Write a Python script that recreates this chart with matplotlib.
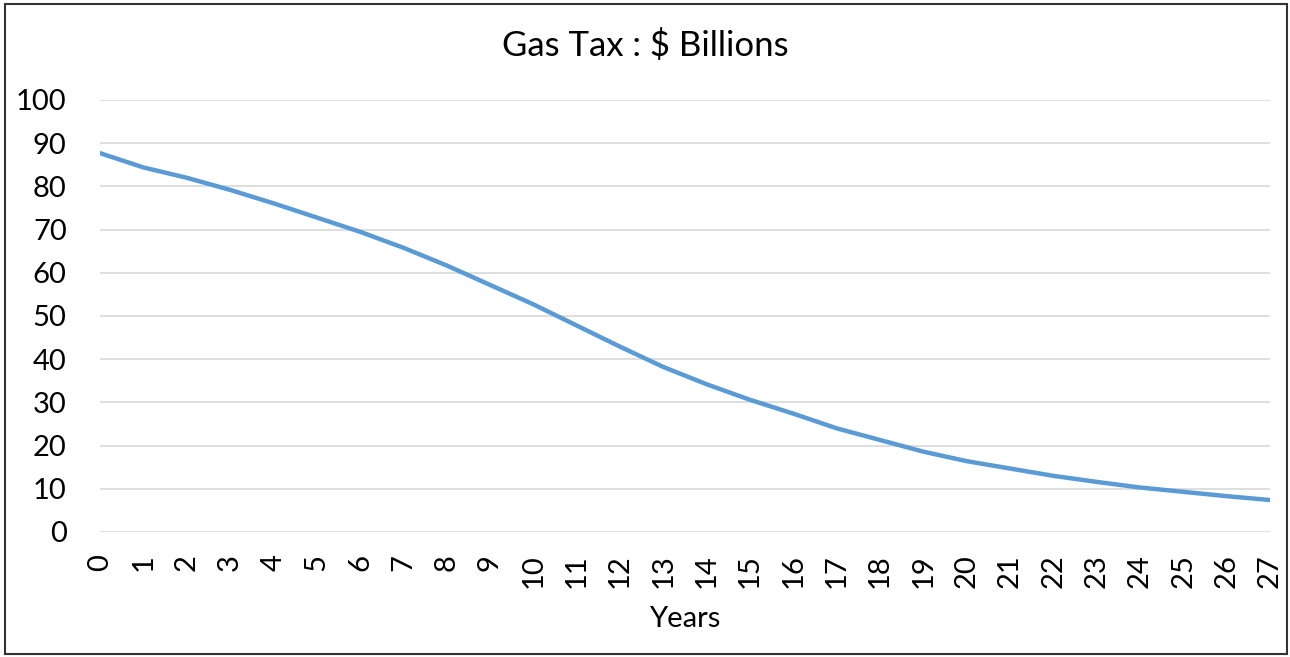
from matplotlib import pyplot as plt
from matplotlib.patches import Rectangle
import numpy as np

years = list(range(28))
gas_tax = [87.7, 84.4, 82.0, 79.2, 76.1, 72.8, 69.5, 65.8, 61.7, 57.2,
           52.7, 47.8, 42.9, 38.2, 34.2, 30.6, 27.4, 24.0, 21.3, 18.6,
           16.4, 14.7, 13.0, 11.6, 10.3, 9.3, 8.3, 7.4]
y_ticks = list(range(0, 101, 10))

plt.rcParams['font.family'] = ['Lato', 'DejaVu Sans']

fig = plt.figure(figsize=(12.9, 6.57), dpi=100)
ax = fig.add_axes([100 / 1290, 125 / 657, 1170 / 1290, 432 / 657])

ax.plot(years, gas_tax, color='#5B9BD5', linewidth=3.2,
        solid_capstyle='round', solid_joinstyle='round')

ax.set_xlim(0, 27)
ax.set_ylim(0, 100)
ax.set_xticks(years)
ax.set_xticklabels([str(y) for y in years], rotation=90)
ax.set_yticks(y_ticks)
ax.tick_params(axis='both', length=0, labelsize=21)
ax.tick_params(axis='y', pad=24)
ax.tick_params(axis='x', pad=16)
ax.grid(axis='y', color='#D9D9D9', linewidth=1.2)
ax.set_axisbelow(True)
for s in ax.spines.values():
    s.set_visible(False)

ax.set_xlabel('Years', fontsize=21, labelpad=13)
fig.text(0.5, 1 - 46 / 657, 'Gas Tax : $ Billions', ha='center', va='center', fontsize=25)

# outer border
fig.patches.append(Rectangle((5 / 1290, 3 / 657), 1282 / 1290, 650 / 657,
                             transform=fig.transFigure, fill=False,
                             edgecolor='#333333', linewidth=1.5))

fig.savefig('out.png', dpi=100)
